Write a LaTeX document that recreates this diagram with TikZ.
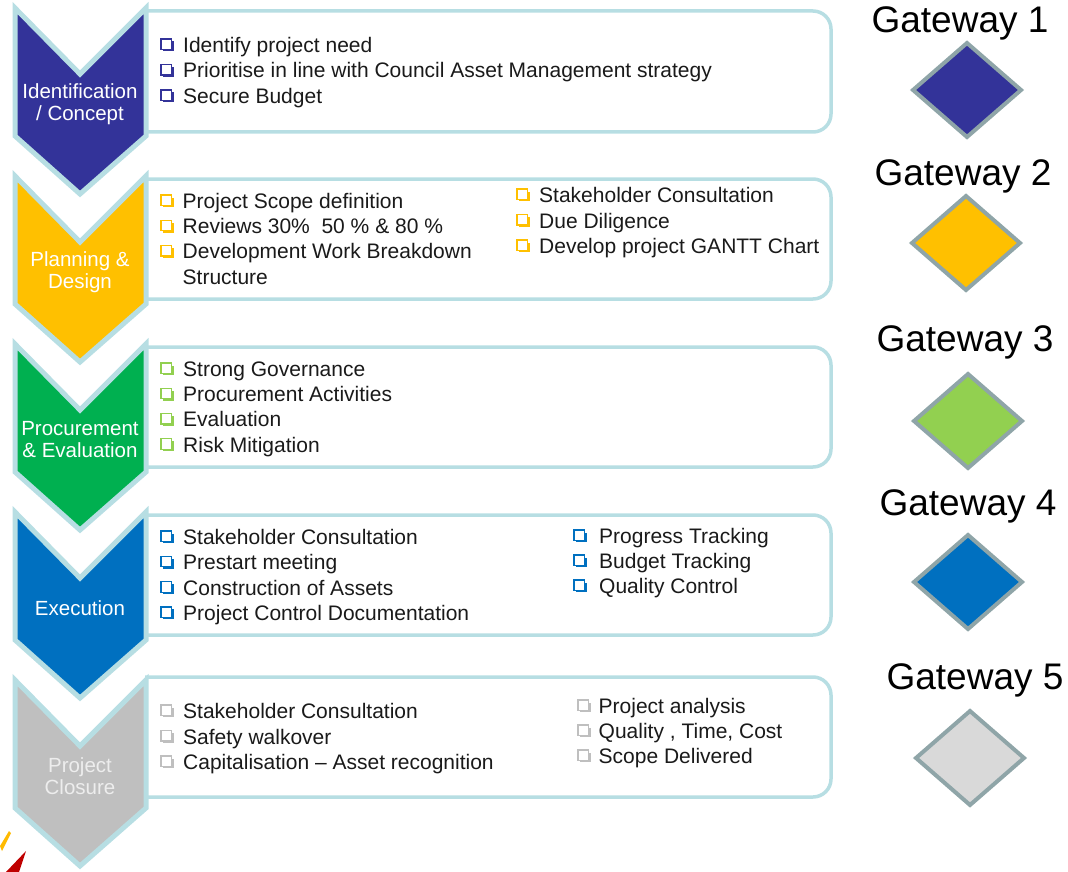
\documentclass[tikz,border=0pt]{standalone}
\usepackage{fontspec}
\setmainfont{Liberation Sans}
\definecolor{rim}{HTML}{B7DEE3}
\definecolor{dia}{HTML}{8FA5A8}
\definecolor{cA}{HTML}{333399}
\definecolor{cB}{HTML}{FFC000}
\definecolor{cC}{HTML}{00B050}
\definecolor{cCd}{HTML}{92D050}
\definecolor{cD}{HTML}{0070C0}
\definecolor{cE}{HTML}{BFBFBF}
\definecolor{cEd}{HTML}{D9D9D9}
\definecolor{ink}{HTML}{1A1A1A}
\begin{document}
\begin{tikzpicture}[x=1pt,y=-1pt,
  boxstyle/.style={fill=white,draw=rim,line width=3.5pt,rounded corners=18pt},
  chevstyle/.style={draw=rim,line width=5pt,line join=miter},
  chevlabel/.style={text=white,font=\fontsize{20.5}{22}\selectfont,align=center},
  itemtext/.style={anchor=base west,inner sep=0pt,text=ink,font=\fontsize{21}{24}\selectfont},
  gatetext/.style={anchor=base,inner sep=0pt,font=\fontsize{37}{40}\selectfont},
  diastyle/.style={draw=dia,line width=4pt,line join=miter}]
\path[use as bounding box] (0,0) rectangle (1068,872);

% bullet item: name, x, baseline, colour, text offset, text
\newcommand\bitem[6]{%
  \fill[#4] (#2+2,#3-11) rectangle (#2+12.5,#3-1.2);
  \filldraw[fill=white,draw=#4,line width=1.2pt] (#2,#3-13.5) rectangle (#2+10.3,#3-3);
  \node[itemtext] (#1) at (#2+#5,#3) {#6};}

% content boxes
\foreach \t/\b/\nm in {11/132/bx1,179/299/bx2,347/467/bx3,515/635/bx4,677/797/bx5}{
  \path[boxstyle] (145,\t) -- (831,\t) -- (831,\b) -- (145,\b);
  \coordinate (\nm) at (488,\t);
}

% chevrons
\foreach \T/\c/\lab/\nm/\tc in {6/cA/{Identification\\/ Concept}/ch1/white,
  174/cB/{Planning \&\\Design}/ch2/white,
  342/cC/{Procurement\\\& Evaluation}/ch3/white,
  510/cD/{Execution}/ch4/white,
  678/cE/{Project\\Closure}/ch5/white!93!black}{
  \path[chevstyle,fill=\c] (15,\T+2) -- (80,\T+68) -- (146,\T+2) -- (146,\T+130) -- (80,\T+188) -- (15,\T+130) -- cycle;
  \node[chevlabel,text=\tc] (\nm) at (80,\T+98) {\lab};
}

% box 1
\bitem{a0}{161}{52.5}{cA}{22}{Identify project need}
\bitem{a1}{161}{78}{cA}{22}{Prioritise in line with Council Asset Management strategy}
\bitem{a2}{161}{103.5}{cA}{22}{Secure Budget}
% box 2
\bitem{b0}{161}{208.5}{cB}{21.5}{Project Scope definition}
\bitem{b1}{161}{233.7}{cB}{21.5}{Reviews 30\%\ \ 50 \% \& 80 \%}
\bitem{b2}{161}{258.9}{cB}{21.5}{Development Work Breakdown}
\node[itemtext] (b3) at (182.5,284.1) {Structure};
\bitem{br0}{517}{202.5}{cB}{22}{Stakeholder Consultation}
\bitem{br1}{517}{228}{cB}{22}{Due Diligence}
\bitem{br2}{517}{253.5}{cB}{22}{Develop project GANTT Chart}
% box 3
\bitem{c0}{161}{376.5}{cCd}{22}{Strong Governance}
\bitem{c1}{161}{401.7}{cCd}{22}{Procurement Activities}
\bitem{c2}{161}{426.9}{cCd}{22}{Evaluation}
\bitem{c3}{161}{452.1}{cCd}{22}{Risk Mitigation}
% box 4
\bitem{d0}{161}{544.5}{cD}{22}{Stakeholder Consultation}
\bitem{d1}{161}{569.8}{cD}{22}{Prestart meeting}
\bitem{d2}{161}{595.1}{cD}{22}{Construction of Assets}
\bitem{d3}{161}{620.4}{cD}{22}{Project Control Documentation}
\bitem{dr0}{574}{543.5}{cD}{25}{Progress Tracking}
\bitem{dr1}{574}{568.5}{cD}{25}{Budget Tracking}
\bitem{dr2}{574}{593.5}{cD}{25}{Quality Control}
% box 5
\bitem{e0}{161}{718.5}{cE}{22}{Stakeholder Consultation}
\bitem{e1}{161}{744}{cE}{22}{Safety walkover}
\bitem{e2}{161}{769.5}{cE}{22}{Capitalisation -- Asset recognition}
\bitem{er0}{578}{713.5}{cE}{20.5}{Project analysis}
\bitem{er1}{578}{738.5}{cE}{20.5}{Quality , Time, Cost}
\bitem{er2}{578}{763.5}{cE}{20.5}{Scope Delivered}

% gateways
\foreach \gx/\gy/\dx/\dy/\c/\n in {960/33/967/90/cA/1,963/185/966/243/cB/2,965/351/968/421/cCd/3,968/515/968/582/cD/4,975/689/970/758/cEd/5}{
  \node[gatetext] (g\n) at (\gx,\gy) {Gateway \n};
  \path[diastyle,fill=\c] (\dx-54,\dy) -- (\dx,\dy-47) -- (\dx+54,\dy) -- (\dx,\dy+47) -- cycle;
  \coordinate (d\n) at (\dx,\dy);
}

% corner decoration
\fill[cB!90!orange] (0,846) -- (9,831) -- (11,833) -- (2,851) -- cycle;
\fill[red!75!black] (6,872) -- (26,851) -- (19,872) -- cycle;
\end{tikzpicture}
\end{document}
